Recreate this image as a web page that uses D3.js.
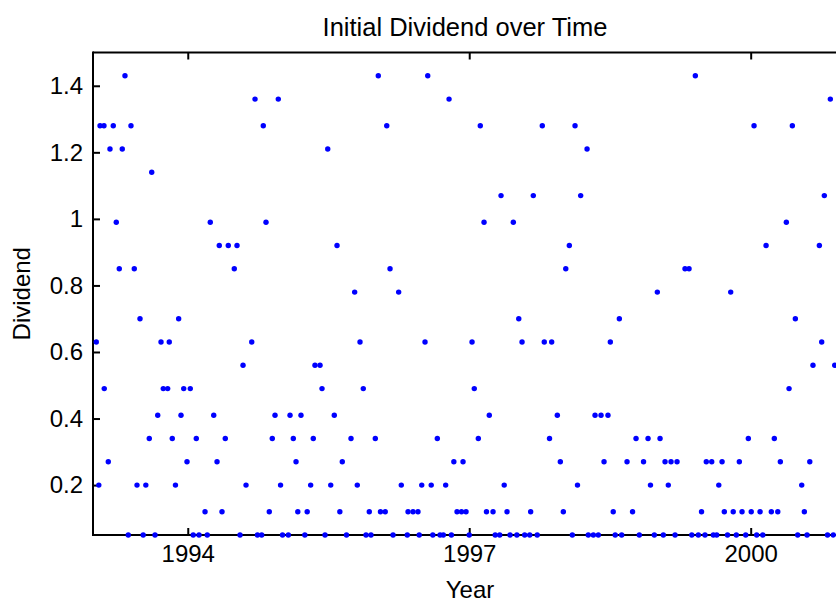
<!DOCTYPE html>
<html>
<head>
<meta charset="utf-8">
<script src="https://cdn.jsdelivr.net/npm/d3@7"></script>
<style>
  html, body { margin: 0; padding: 0; background: #fff; }
  svg { display: block; }
  text { font-family: "Liberation Sans", Arial, Helvetica, sans-serif; fill: #000; }
</style>
</head>
<body>
<svg id="chart" width="836" height="603"></svg>
<script>
// Dividend levels (quantised initial dividends) and the payout dates (decimal years) at each level
const dividendLevels = [0.05, 0.12, 0.20, 0.27, 0.34, 0.41, 0.49, 0.56, 0.63, 0.70,
                        0.78, 0.85, 0.92, 0.99, 1.07, 1.14, 1.21, 1.28, 1.36, 1.43];

const payoutYears = [
  // 0.05
  [1993.366, 1993.525, 1993.651, 1994.058, 1994.120, 1994.208, 1994.557, 1994.743, 1994.788,
   1995.010, 1995.072, 1995.248, 1995.463, 1995.692, 1995.900, 1995.953, 1996.188, 1996.340,
   1996.467, 1996.612, 1996.689, 1996.724, 1996.810, 1997.000, 1997.277, 1997.325, 1997.435,
   1997.508, 1997.591, 1997.645, 1997.725, 1998.099, 1998.269, 1998.323, 1998.376, 1998.556,
   1998.625, 1998.813, 1998.973, 1999.069, 1999.194, 1999.372, 1999.442, 1999.513, 1999.602,
   1999.638, 1999.753, 1999.847, 1999.947, 2000.064, 2000.129, 2000.501, 2000.601, 2000.819,
   2000.881],
  // 0.12
  [1994.184, 1994.365, 1994.869, 1995.173, 1995.273, 1995.621, 1995.935, 1996.054, 1996.105,
   1996.348, 1996.401, 1996.454, 1996.870, 1996.918, 1996.966, 1997.184, 1997.254, 1997.403,
   1997.655, 1998.003, 1998.535, 1998.741, 1999.476, 1999.719, 1999.814, 1999.908, 2000.006,
   2000.100, 2000.220, 2000.289, 2000.572],
  // 0.20
  [1993.052, 1993.459, 1993.553, 1993.869, 1994.621, 1994.989, 1995.310, 1995.524, 1995.807,
   1996.276, 1996.494, 1996.595, 1996.749, 1997.373, 1998.154, 1998.932, 1999.122, 1999.660,
   2000.544],
  // 0.27
  [1993.153, 1993.992, 1994.312, 1995.154, 1995.647, 1996.836, 1996.934, 1997.971, 1998.437,
   1998.682, 1998.858, 1999.087, 1999.151, 1999.215, 1999.527, 1999.585, 1999.695, 1999.879,
   2000.316, 2000.630],
  // 0.34
  [1993.590, 1993.835, 1994.091, 1994.400, 1994.901, 1995.125, 1995.338, 1995.740, 1995.999,
   1996.660, 1997.097, 1997.856, 1998.778, 1998.906, 1999.034, 1999.975, 2000.252],
  // 0.41
  [1993.680, 1993.928, 1994.277, 1994.930, 1995.090, 1995.207, 1995.562, 1997.214, 1997.939,
   1998.341, 1998.405, 1998.479],
  // 0.49
  [1993.110, 1993.739, 1993.786, 1993.957, 1994.027, 1995.431, 1995.871, 1997.054, 2000.409],
  // 0.56
  [1994.589, 1995.356, 1995.410, 2000.664, 2000.896],
  // 0.63
  [1993.025, 1993.715, 1993.803, 1994.682, 1995.836, 1996.529, 1997.030, 1997.563, 1997.800,
   1997.879, 1998.504, 2000.757],
  // 0.70
  [1993.491, 1993.903, 1997.528, 1998.600, 2000.476],
  // 0.78
  [1995.779, 1996.248, 1999.005, 1999.787],
  // 0.85
  [1993.270, 1993.430, 1994.496, 1996.156, 1998.029, 1999.300, 1999.343],
  // 0.92
  [1994.336, 1994.432, 1994.525, 1995.591, 1998.067, 2000.164, 2000.732],
  // 0.99
  [1993.238, 1994.240, 1994.834, 1997.158, 1997.470, 2000.380],
  // 1.07
  [1997.339, 1997.683, 1998.188, 2000.785],
  // 1.14
  [1993.616],
  // 1.21
  [1993.171, 1993.302, 1995.492, 1998.256],
  // 1.28
  [1993.065, 1993.107, 1993.206, 1993.395, 1994.805, 1996.121, 1997.118, 1997.779, 1998.128,
   2000.036, 2000.444],
  // 1.36
  [1994.717, 1994.965, 1996.785, 2000.849],
  // 1.43
  [1993.331, 1996.031, 1996.558, 1999.410]
];

const yTickValues = [0.2, 0.4, 0.6, 0.8, 1.0, 1.2, 1.4];
const yTickLabels = ["0.2", "0.4", "0.6", "0.8", "1", "1.2", "1.4"];
const xTickValues = [1994, 1997, 2000];
const xTickLabels = ["1994", "1997", "2000"];

const titleText = "Initial Dividend over Time";
const xLabelText = "Year";
const yLabelText = "Dividend";

// Flatten into point records
const points = [];
dividendLevels.forEach((d, i) => payoutYears[i].forEach(t => points.push({ t, d })));

const svg = d3.select("#chart");
const plot = { left: 93, right: 839, top: 52.5, bottom: 535 };
const fontSize = 24;

const x = d3.scaleLinear().domain([1992.99, 2000.92]).range([plot.left, 837]);
const y = d3.scaleLinear().domain([0.05, 1.5]).range([plot.bottom, plot.top]);

const tickLen = 7;
const axisColor = "#000";
const axisWidth = 2;

// Axis box (the right edge sits just outside the frame)
const box = svg.append("g");
box.append("line").attr("x1", plot.left).attr("x2", plot.right).attr("y1", plot.bottom).attr("y2", plot.bottom)
  .attr("stroke", axisColor).attr("stroke-width", axisWidth);
box.append("line").attr("x1", plot.left).attr("x2", plot.right).attr("y1", plot.top).attr("y2", plot.top)
  .attr("stroke", axisColor).attr("stroke-width", axisWidth);
box.append("line").attr("x1", plot.left).attr("x2", plot.left).attr("y1", plot.top - 1).attr("y2", plot.bottom + 1)
  .attr("stroke", axisColor).attr("stroke-width", axisWidth);

// Left axis: inward ticks and labels
const yAxis = d3.axisLeft(y).tickValues(yTickValues)
  .tickFormat((d, i) => yTickLabels[i]).tickSizeInner(-tickLen).tickSizeOuter(0).tickPadding(10);
const gy = svg.append("g").attr("transform", `translate(${plot.left},0)`).call(yAxis);
gy.select(".domain").remove();
gy.selectAll(".tick line").attr("stroke", axisColor).attr("stroke-width", axisWidth);
gy.selectAll(".tick text").attr("font-size", fontSize).attr("font-family", "Liberation Sans, Arial, sans-serif");

// Bottom axis: inward ticks and labels
const xAxis = d3.axisBottom(x).tickValues(xTickValues)
  .tickFormat((d, i) => xTickLabels[i]).tickSizeInner(-tickLen).tickSizeOuter(0).tickPadding(10);
const gx = svg.append("g").attr("transform", `translate(0,${plot.bottom})`).call(xAxis);
gx.select(".domain").remove();
gx.selectAll(".tick line").attr("stroke", axisColor).attr("stroke-width", axisWidth);
gx.selectAll(".tick text").attr("font-size", fontSize).attr("font-family", "Liberation Sans, Arial, sans-serif");

// Top axis: mirrored inward ticks, no labels
const xAxisTop = d3.axisTop(x).tickValues(xTickValues).tickFormat("").tickSizeInner(-tickLen).tickSizeOuter(0);
const gxt = svg.append("g").attr("transform", `translate(0,${plot.top})`).call(xAxisTop);
gxt.select(".domain").remove();
gxt.selectAll(".tick line").attr("stroke", axisColor).attr("stroke-width", axisWidth);

// Scatter points
svg.append("g").selectAll("circle").data(points).join("circle")
  .attr("cx", d => x(d.t))
  .attr("cy", d => y(d.d))
  .attr("r", 2.7)
  .attr("fill", "#0000ff");

// Title and axis labels
svg.append("text").attr("x", 465).attr("y", 36)
  .attr("text-anchor", "middle").attr("font-size", 25.5).text(titleText);
svg.append("text").attr("x", 470).attr("y", 598)
  .attr("text-anchor", "middle").attr("font-size", fontSize).text(xLabelText);
svg.append("text").attr("transform", `translate(30,${(plot.top + plot.bottom) / 2}) rotate(-90)`)
  .attr("text-anchor", "middle").attr("font-size", fontSize).text(yLabelText);
</script>
</body>
</html>
